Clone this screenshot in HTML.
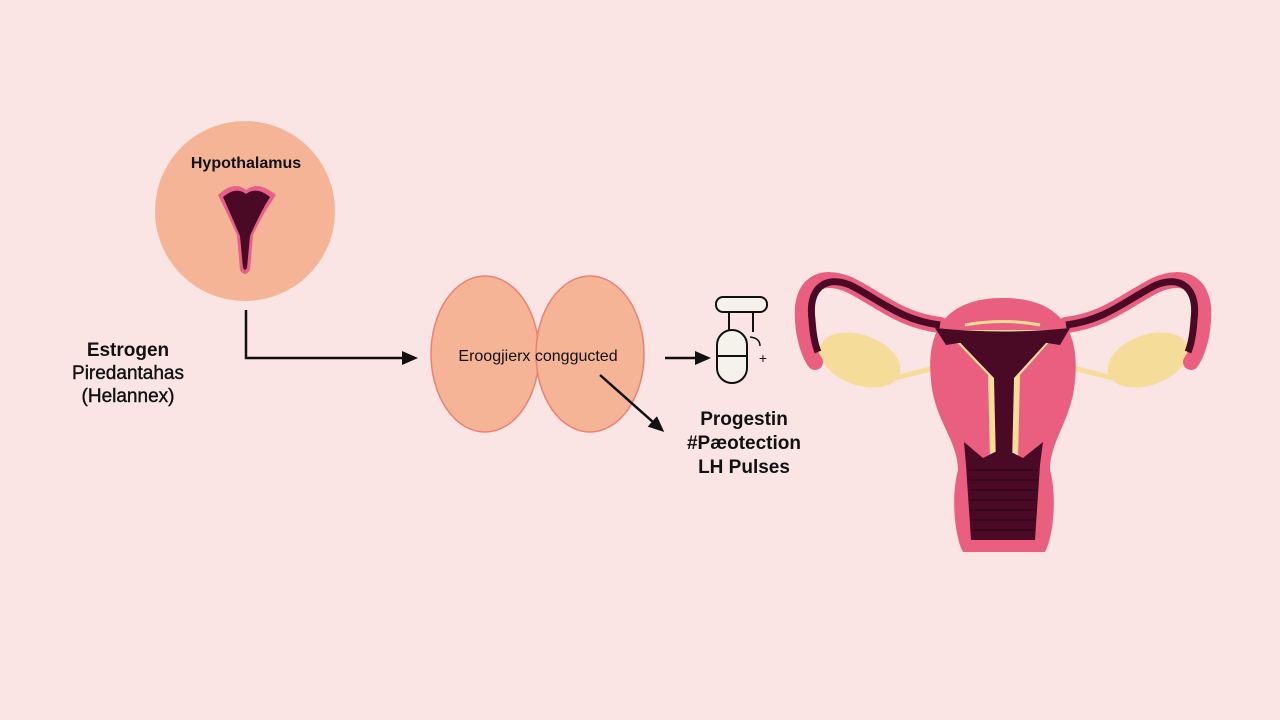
<!DOCTYPE html>
<html><head><meta charset="utf-8"><style>
html,body{margin:0;padding:0;background:#fae4e4;}
svg{display:block}
text{font-family:"Liberation Sans",sans-serif;fill:#111;}
</style></head><body>
<svg width="1280" height="720" viewBox="0 0 1280 720" xmlns="http://www.w3.org/2000/svg">
<rect width="1280" height="720" fill="#fae4e4"/>
<defs>
<marker id="ah" markerWidth="16" markerHeight="16" refX="13" refY="8" orient="auto" markerUnits="userSpaceOnUse" viewBox="0 0 16 16">
<path d="M0,1 L16,8 L0,15 z" fill="#111"/></marker>
</defs>
<!-- Hypothalamus -->
<circle cx="245" cy="211" r="90" fill="#f5b496"/>
<text x="246" y="168" font-size="16" font-weight="bold" text-anchor="middle">Hypothalamus</text>
<path d="M218,195 Q234,180 246,190 Q258,180 276,195 Q262,215 253,235 L250,270 Q245,278 240,270 L237,235 Q228,215 218,195z" fill="#e8608a"/>
<path d="M223,197 Q236,186 246,194 Q257,186 270,197 Q259,215 250,236 L247,268 Q245,272 243,268 L240,236 Q231,215 223,197z" fill="#4a0a26"/>
<!-- connector -->
<polyline points="246,310 246,358 415,358" fill="none" stroke="#111" stroke-width="2.5" marker-end="url(#ah)"/>
<text x="128" y="356" font-size="19" font-weight="bold" text-anchor="middle">Estrogen</text>
<text x="128" y="379" font-size="19" text-anchor="middle" stroke="#111" stroke-width="0.4">Piredantahas</text>
<text x="128" y="402" font-size="19" text-anchor="middle" stroke="#111" stroke-width="0.4">(Helannex)</text>
<!-- ovals -->
<ellipse cx="485" cy="354" rx="54" ry="78" fill="#f5b496" stroke="#ee8070" stroke-width="1.5"/>
<ellipse cx="590" cy="354" rx="54" ry="78" fill="#f5b496" stroke="#ee8070" stroke-width="1.5"/>
<text x="538" y="361" font-size="16" text-anchor="middle">Eroogjierx conggucted</text>
<line x1="600" y1="375" x2="662" y2="430" stroke="#111" stroke-width="2.5" marker-end="url(#ah)"/>
<line x1="665" y1="358" x2="708" y2="358" stroke="#111" stroke-width="2.5" marker-end="url(#ah)"/>
<!-- pill icon -->
<rect x="716" y="297" width="51" height="15" rx="7" fill="#f5f2ec" stroke="#111" stroke-width="2"/>
<line x1="729" y1="312" x2="729" y2="332" stroke="#111" stroke-width="2"/>
<line x1="753" y1="312" x2="753" y2="332" stroke="#111" stroke-width="2"/>
<rect x="717" y="330" width="30" height="53" rx="15" fill="#f5f2ec" stroke="#111" stroke-width="2"/>
<line x1="717" y1="356" x2="747" y2="356" stroke="#111" stroke-width="2"/>
<path d="M750,337 Q760,338 760,346" fill="none" stroke="#111" stroke-width="1.5"/>
<text x="763" y="363" font-size="14" text-anchor="middle">+</text>
<text x="744" y="425" font-size="19" font-weight="bold" text-anchor="middle">Progestin</text>
<text x="744" y="449" font-size="19" font-weight="bold" text-anchor="middle">#Pæotection</text>
<text x="744" y="473" font-size="19" font-weight="bold" text-anchor="middle">LH Pulses</text>
<!-- uterus -->
<g>
<ellipse cx="860" cy="360" rx="42" ry="25" transform="rotate(20 860 360)" fill="#f5dc98"/>
<ellipse cx="1148" cy="360" rx="42" ry="25" transform="rotate(-20 1148 360)" fill="#f5dc98"/>
<line x1="895" y1="378" x2="935" y2="368" stroke="#f5dc98" stroke-width="5"/>
<line x1="1113" y1="378" x2="1073" y2="368" stroke="#f5dc98" stroke-width="5"/>
<path d="M1003,298 C1060,298 1080,330 1075,380 C1072,420 1050,440 1050,470 C1058,500 1052,540 1045,552 L963,552 C956,540 950,500 958,470 C958,440 934,420 931,380 C926,330 946,298 1003,298z" fill="#ea5f7f"/>
<path d="M940,325 C900,320 880,300 850,285 C820,272 800,285 803,320 C804,340 810,355 815,362" fill="none" stroke="#ea5f7f" stroke-width="16" stroke-linecap="round"/>
<path d="M1066,325 C1106,320 1126,300 1156,285 C1186,272 1206,285 1203,320 C1202,340 1196,355 1191,362" fill="none" stroke="#ea5f7f" stroke-width="16" stroke-linecap="round"/>
<path d="M940,325 C900,320 880,300 850,285 C825,275 808,288 812,320 C813,335 815,345 818,352" fill="none" stroke="#4a0a26" stroke-width="7"/>
<path d="M1066,325 C1106,320 1126,300 1156,285 C1181,275 1198,288 1194,320 C1193,335 1191,345 1188,352" fill="none" stroke="#4a0a26" stroke-width="7"/>
<path d="M945,330 L1060,330 L1020,375 L1018,460 L990,460 L988,375z" fill="#f5dc98"/>
<path d="M950,332 L1056,332 L1014,378 L1012,465 L996,465 L994,378z" fill="#4a0a26"/>
<path d="M935,328 Q1003,335 1070,328 L1060,345 Q1003,335 946,345z" fill="#4a0a26"/>
<path d="M965,325 Q1003,318 1040,325" fill="none" stroke="#f5dc98" stroke-width="3"/>
<path d="M964,442 L983,458 L1003,448 L1023,458 L1043,442 L1040,465 L1035,540 L971,540 L966,465z" fill="#4a0a26"/>
<g stroke="#2a0614" stroke-width="1">
<line x1="968" y1="470" x2="1038" y2="470"/><line x1="968" y1="480" x2="1038" y2="480"/>
<line x1="969" y1="490" x2="1037" y2="490"/><line x1="969" y1="500" x2="1037" y2="500"/>
<line x1="970" y1="510" x2="1036" y2="510"/><line x1="970" y1="520" x2="1036" y2="520"/>
<line x1="971" y1="530" x2="1035" y2="530"/></g>
</g>
</svg>
</body></html>
